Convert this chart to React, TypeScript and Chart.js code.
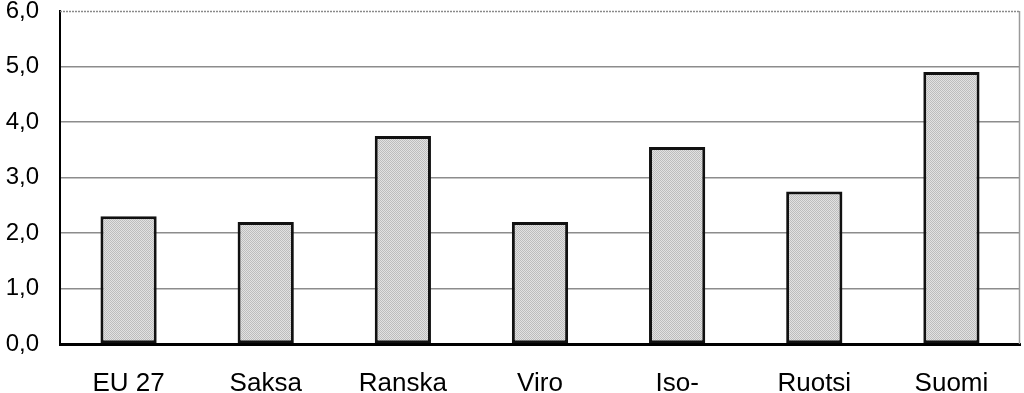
import React, { useEffect, useRef } from "react";
import { Chart, registerables } from "chart.js";

Chart.register(...registerables);

const categories = ["EU 27", "Saksa", "Ranska", "Viro", "Iso-", "Ruotsi", "Suomi"];
const values = [2.3, 2.2, 3.75, 2.2, 3.55, 2.75, 4.9];
const yMin = 0;
const yMax = 6;
const yStep = 1;

function makePattern(): CanvasPattern | string {
  const c = document.createElement("canvas");
  c.width = 2;
  c.height = 2;
  const g = c.getContext("2d");
  if (!g) return "#cccccc";
  g.fillStyle = "#e2e2e2";
  g.fillRect(0, 0, 2, 2);
  g.fillStyle = "#bdbdbd";
  g.fillRect(0, 0, 1, 1);
  g.fillRect(1, 1, 1, 1);
  const p = g.createPattern(c, "repeat");
  return p || "#cccccc";
}

const frame = {
  id: "frame",
  afterDraw(chart: any) {
    const { ctx, chartArea } = chart;
    ctx.save();
    ctx.strokeStyle = "#8a8a8a";
    ctx.lineWidth = 1.5;
    ctx.setLineDash([2, 1]);
    ctx.beginPath();
    ctx.moveTo(chartArea.left, chartArea.top + 0.5);
    ctx.lineTo(chartArea.right, chartArea.top + 0.5);
    ctx.stroke();
    ctx.setLineDash([]);
    ctx.lineWidth = 1.5;
    ctx.strokeStyle = "#9a9a9a";
    ctx.beginPath();
    ctx.moveTo(chartArea.right - 0.5, chartArea.top);
    ctx.lineTo(chartArea.right - 0.5, chartArea.bottom);
    ctx.stroke();
    ctx.restore();
  },
};

export default function App() {
  const ref = useRef<HTMLCanvasElement>(null);
  useEffect(() => {
    if (!ref.current) return;
    const chart = new Chart(ref.current, {
      type: "bar",
      data: {
        labels: categories,
        datasets: [
          {
            data: values,
            backgroundColor: makePattern() as any,
            borderColor: "#111",
            borderWidth: 3,
            borderSkipped: false,
            barPercentage: 0.41,
            categoryPercentage: 1,
          },
        ],
      },
      options: {
        animation: false,
        responsive: false,
        maintainAspectRatio: false,
        layout: { padding: { top: 11, right: 4, left: 0, bottom: 0 } },
        plugins: { legend: { display: false }, tooltip: { enabled: false } },
        scales: {
          x: {
            grid: { display: false, drawTicks: false },
            border: { display: true, color: "#000", width: 3 },
            ticks: {
              color: "#000",
              font: { family: "'Liberation Sans', Arial, sans-serif", size: 26 },
              padding: 24,
              maxRotation: 0,
              autoSkip: false,
            },
            afterFit(scale: any) {
              scale.height = 49;
              scale.paddingLeft = 0;
              scale.paddingRight = 0;
            },
          },
          y: {
            min: yMin,
            max: yMax,
            grid: {
              color: (ctx: any) => (ctx.tick && (ctx.tick.value === yMax || ctx.tick.value === 0) ? "rgba(0,0,0,0)" : "#8c8c8c"),
              lineWidth: 1.5,
              drawTicks: false,
            },
            border: { display: true, color: "#000", width: 2 },
            ticks: {
              stepSize: yStep,
              color: "#000",
              padding: 21,
              font: { family: "'Liberation Sans', Arial, sans-serif", size: 24 },
              callback: (v: any) => Number(v).toFixed(1).replace(".", ","),
            },
            afterFit(scale: any) {
              scale.width = 60;
              scale.paddingTop = 0;
              scale.paddingBottom = 0;
            },
          },
        },
      },
      plugins: [frame],
    });
    return () => chart.destroy();
  }, []);
  return (
    <div style={{ position: "fixed", left: 0, top: 0, width: 1024, height: 393, background: "#fff" }}>
      <canvas ref={ref} width={1024} height={393} style={{ display: "block" }} />
    </div>
  );
}
